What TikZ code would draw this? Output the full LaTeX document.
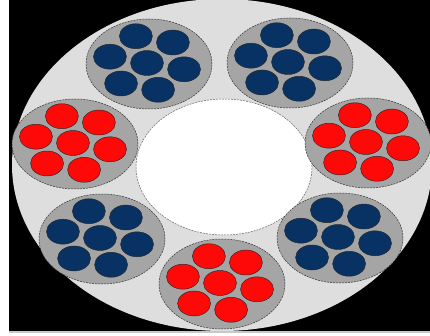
\documentclass[tikz,border=0pt]{standalone}
\usetikzlibrary{calc}
\definecolor{bgblack}{RGB}{0,0,0}
\definecolor{ringgray}{RGB}{222,222,222}
\definecolor{bundlegray}{RGB}{165,165,165}
\definecolor{navyfib}{RGB}{8,50,100}
\definecolor{redfib}{RGB}{255,8,8}
\definecolor{stripgray}{RGB}{200,200,200}
\tikzset{
  bundle/.style={fill=bundlegray, draw=black!80, dash pattern=on 2pt off 1pt, line width=0.5pt},
  fiber/.style={draw=black!85, line width=0.45pt},
  core/.style={fill=white, draw=black!60, dash pattern=on 2pt off 1pt, line width=0.5pt}
}
\newcommand{\fiberbundle}[3]{% #1 x, #2 y (center of middle fibre), #3 colour
  \filldraw[bundle] ({#1+2},{#2+1}) ellipse [x radius=63pt, y radius=45pt];
  \filldraw[fiber, fill=#3] (#1,#2) ellipse [x radius=16.5pt, y radius=12.5pt];
  \foreach \ang in {-13,47,107,167,227,287}{
    \filldraw[fiber, fill=#3] ({#1+38*cos(\ang)},{#2-28*sin(\ang)}) ellipse [x radius=16.5pt, y radius=12.5pt];
  }
}
\begin{document}
\begin{tikzpicture}[x=1pt,y=-1pt]
\useasboundingbox (0,0) rectangle (430,336);
\fill[white] (0,0) rectangle (430,336);
\fill[bgblack] (9,0) rectangle (430,331);
\fill[stripgray] (9,331) rectangle (430,332.5);
\begin{scope}
\clip (9,0) rectangle (430,331);
\fill[ringgray] (222,165) ellipse [x radius=210pt, y radius=166pt];
\filldraw[core] (224,167) ellipse [x radius=88pt, y radius=68pt];
\fiberbundle{147}{63}{navyfib}
\fiberbundle{288}{62}{navyfib}
\fiberbundle{73}{143}{redfib}
\fiberbundle{366}{142}{redfib}
\fiberbundle{100}{238}{navyfib}
\fiberbundle{338}{237}{navyfib}
\fiberbundle{220}{283}{redfib}
\end{scope}
\end{tikzpicture}
\end{document}
